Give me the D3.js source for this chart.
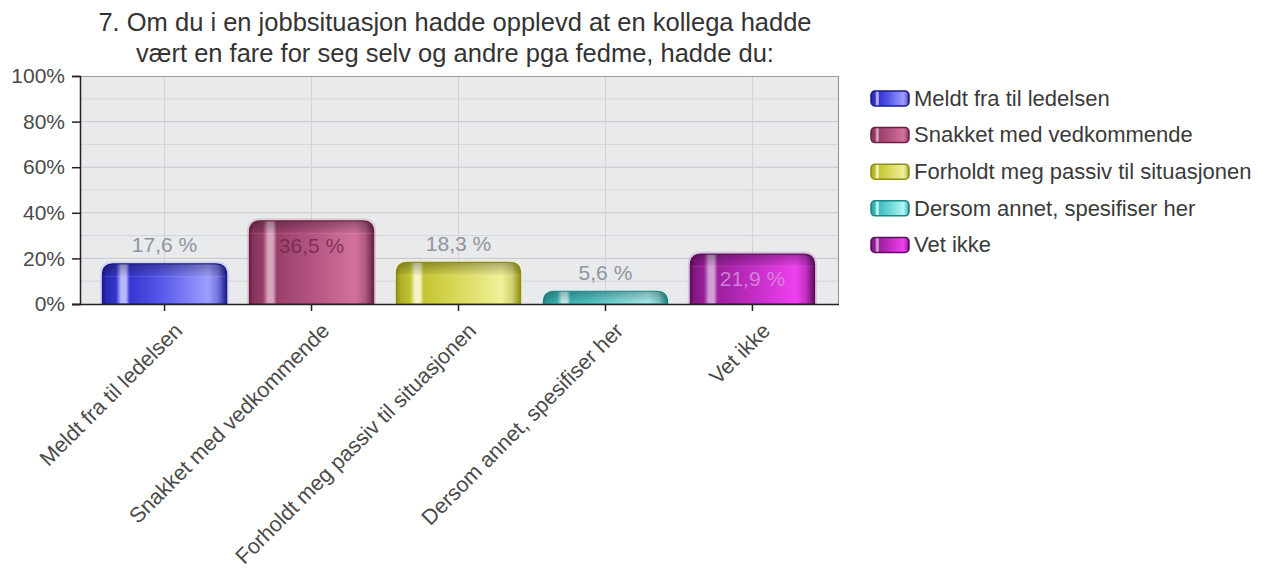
<!DOCTYPE html>
<html>
<head>
<meta charset="utf-8">
<script src="https://cdn.jsdelivr.net/npm/d3@7/dist/d3.min.js"></script>
<style>
  html, body { margin: 0; padding: 0; background: #fff; }
  svg { display: block; font-family: "Liberation Sans", Arial, sans-serif; }
</style>
</head>
<body>
<svg id="chart" width="1268" height="574"></svg>
<script>
// Survey answers (percent of respondents)
const titleLines = [
  "7. Om du i en jobbsituasjon hadde opplevd at en kollega hadde",
  "vært en fare for seg selv og andre pga fedme, hadde du:"
];
const categories = [
  "Meldt fra til ledelsen",
  "Snakket med vedkommende",
  "Forholdt meg passiv til situasjonen",
  "Dersom annet, spesifiser her",
  "Vet ikke"
];
const values = [17.6, 36.5, 18.3, 5.6, 21.9];
const valueLabels = ["17,6 %", "36,5 %", "18,3 %", "5,6 %", "21,9 %"];
const yTicks = [0, 20, 40, 60, 80, 100];
const yTickLabels = ["0%", "20%", "40%", "60%", "80%", "100%"];

// Glossy palette per answer: [dark edge, base, light, highlight]
const palettes = [
  ["#1a1a8a", "#3a3ade", "#9c9eff", "#b8b8ff"],
  ["#6a2244", "#a24472", "#d2729c", "#d8a4bc"],
  ["#8e8e14", "#cece3a", "#f0f09a", "#f4f4c4"],
  ["#1e8484", "#44c6c6", "#b0f6f6", "#cef8f8"],
  ["#5c0c5c", "#a822aa", "#f040f0", "#d0a0d4"]
];

const svg = d3.select("#chart");
const plot = { left: 80, right: 839, top: 76, bottom: 304 };

const x = d3.scaleBand()
  .domain(categories)
  .range([91, 826])
  .paddingInner(0.155)
  .paddingOuter(0.078);

const y = d3.scaleLinear().domain([0, 100]).range([plot.bottom, plot.top]);

const defs = svg.append("defs");

// Horizontal cylinder shading for each bar colour
palettes.forEach((p, i) => {
  const g = defs.append("linearGradient")
    .attr("id", "bar-grad-" + i)
    .attr("x1", "0%").attr("x2", "100%").attr("y1", "0%").attr("y2", "0%");
  const mix = (a, b, t) => d3.interpolateRgb(a, b)(t);
  const stops = [
    [0, p[0]], [0.03, mix(p[0], p[1], 0.5)], [0.11, mix(p[0], p[1], 0.8)],
    [0.15, p[3]], [0.19, p[3]], [0.22, mix(p[0], p[1], 0.85)],
    [0.5, mix(p[1], p[2], 0.35)],
    [0.85, p[2]], [0.93, mix(p[2], p[0], 0.3)], [1, p[0]]
  ];
  stops.forEach(s => g.append("stop").attr("offset", s[0]).attr("stop-color", s[1]));
});

// Top rim shading
const rim = defs.append("linearGradient")
  .attr("id", "rim").attr("x1", 0).attr("x2", 0).attr("y1", 0).attr("y2", 1);
rim.append("stop").attr("offset", 0).attr("stop-color", "#000").attr("stop-opacity", 0.28);
rim.append("stop").attr("offset", 0.85).attr("stop-color", "#000").attr("stop-opacity", 0.06);
rim.append("stop").attr("offset", 1).attr("stop-color", "#fff").attr("stop-opacity", 0.15);

// Plot background
svg.append("rect")
  .attr("x", plot.left).attr("y", plot.top)
  .attr("width", plot.right - plot.left).attr("height", plot.bottom - plot.top)
  .attr("fill", "#e8eaec");

// Horizontal grid every 10%
const gridVals = d3.range(10, 100, 10);
svg.append("g").selectAll("line").data(gridVals).join("line")
  .attr("x1", plot.left).attr("x2", plot.right)
  .attr("y1", d => y(d)).attr("y2", d => y(d))
  .attr("stroke", d => d % 20 === 0 ? "#c6c8ca" : "#d4d6d8")
  .attr("stroke-width", 1);

// Vertical grid at category centres
svg.append("g").selectAll("line").data(categories).join("line")
  .attr("x1", d => x(d) + x.bandwidth() / 2).attr("x2", d => x(d) + x.bandwidth() / 2)
  .attr("y1", plot.top).attr("y2", plot.bottom)
  .attr("stroke", "#d0d2d4").attr("stroke-width", 1);

// Plot frame (top and right)
svg.append("path")
  .attr("d", `M${plot.left},${plot.top + 0.5}H${plot.right - 0.5}V${plot.bottom}`)
  .attr("fill", "none").attr("stroke", "#9a9c9e").attr("stroke-width", 1.2);

// Bar outline with rounded top corners
function barPath(x0, w, yTop, yBase, r) {
  r = Math.min(r, (yBase - yTop), w / 2);
  return `M${x0},${yBase}V${yTop + r}Q${x0},${yTop} ${x0 + r},${yTop}` +
         `H${x0 + w - r}Q${x0 + w},${yTop} ${x0 + w},${yTop + r}V${yBase}Z`;
}

const bars = svg.append("g").selectAll("g").data(values).join("g");
bars.append("path")
  .attr("d", (d, i) => barPath(x(categories[i]) - 1.5, x.bandwidth() + 3, y(d) - 1.5, y(0), 12))
  .attr("fill", "none")
  .attr("stroke", (d, i) => palettes[i][3])
  .attr("stroke-opacity", 0.45)
  .attr("stroke-width", 2);
bars.append("path")
  .attr("d", (d, i) => barPath(x(categories[i]), x.bandwidth(), y(d), y(0), 11))
  .attr("fill", (d, i) => `url(#bar-grad-${i})`)
  .attr("stroke", (d, i) => palettes[i][0])
  .attr("stroke-width", 1.2);
bars.append("path")
  .attr("d", (d, i) => barPath(x(categories[i]) + 0.6, x.bandwidth() - 1.2, y(d) + 0.6, Math.min(y(d) + 13, y(0)), 10))
  .attr("fill", "url(#rim)");

// Value labels: above short bars, inside taller ones
svg.append("g").selectAll("text").data(values).join("text")
  .attr("x", (d, i) => x(categories[i]) + x.bandwidth() / 2)
  .attr("y", d => d >= 20 ? y(d) + 25 : y(d) - 19)
  .attr("dy", "0.35em")
  .attr("text-anchor", "middle")
  .attr("font-size", 21)
  .attr("fill", (d, i) => d >= 20 ? (i === 1 ? "#74284e" : "#d890e0") : "#8f959e")
  .attr("fill-opacity", d => d >= 20 ? 0.85 : 1)
  .text((d, i) => valueLabels[i]);

// Y axis
const yAxis = svg.append("g")
  .attr("transform", `translate(${plot.left},0)`)
  .call(d3.axisLeft(y).tickValues(yTicks).tickFormat((d, i) => yTickLabels[i]).tickSize(8).tickPadding(7));
yAxis.select(".domain").attr("stroke", "#222").attr("stroke-width", 1.5);
yAxis.selectAll(".tick line").attr("stroke", "#222").attr("stroke-width", 1.5);
yAxis.selectAll(".tick text")
  .attr("font-size", 21).attr("fill", "#4a4a4a")
  .attr("font-family", "Liberation Sans, Arial, sans-serif");

// X axis
const xAxis = svg.append("g")
  .attr("transform", `translate(0,${plot.bottom})`)
  .call(d3.axisBottom(x).tickSize(7).tickSizeOuter(0));
xAxis.select(".domain").attr("d", `M${plot.left - 8},0.5H${plot.right}`)
  .attr("stroke", "#222").attr("stroke-width", 1.5);
xAxis.selectAll(".tick line").attr("stroke", "#222").attr("stroke-width", 1.5);
xAxis.selectAll(".tick text")
  .attr("font-size", 21.5).attr("fill", "#4a4a4a")
  .attr("font-family", "Liberation Sans, Arial, sans-serif")
  .attr("text-anchor", "end")
  .attr("dy", null)
  .attr("transform", "translate(12,21) rotate(-45)");

// Title
svg.append("g").selectAll("text").data(titleLines).join("text")
  .attr("x", 455)
  .attr("y", (d, i) => 31 + i * 31)
  .attr("text-anchor", "middle")
  .attr("font-size", 25.5)
  .attr("fill", "#333")
  .text(d => d);

// Legend
const legend = svg.append("g").selectAll("g").data(categories).join("g")
  .attr("transform", (d, i) => `translate(871,${98 + i * 36.6})`);
legend.append("rect")
  .attr("x", 0).attr("y", -7).attr("width", 38).attr("height", 15).attr("rx", 4)
  .attr("fill", (d, i) => `url(#bar-grad-${i})`)
  .attr("stroke", (d, i) => palettes[i][0]).attr("stroke-width", 1.5);
legend.append("text")
  .attr("x", 43).attr("dy", "0.35em")
  .attr("font-size", 22).attr("fill", "#3a3a3a")
  .text(d => d);
</script>
</body>
</html>
